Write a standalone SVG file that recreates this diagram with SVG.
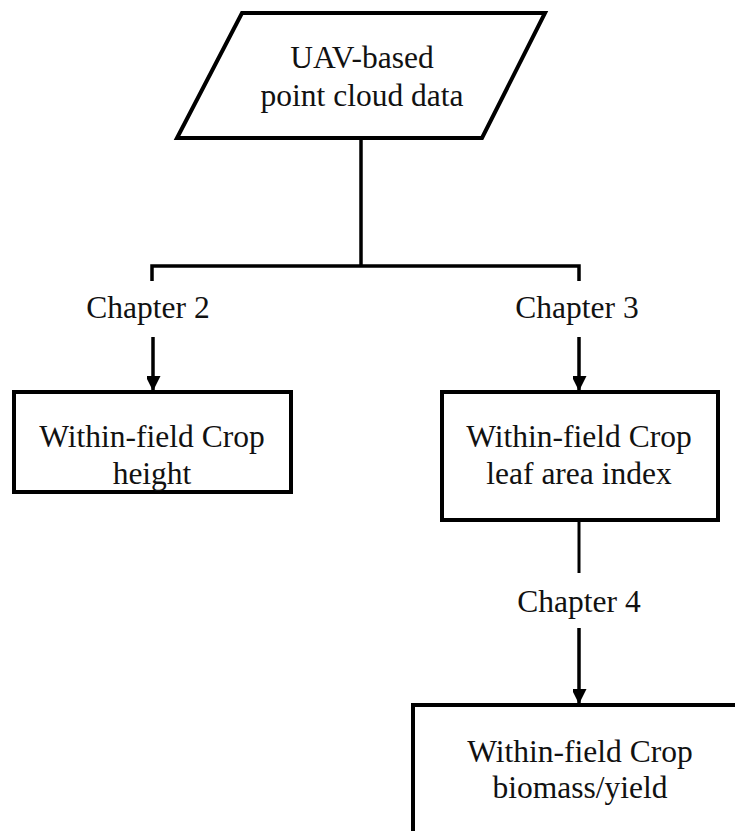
<svg xmlns="http://www.w3.org/2000/svg" width="735" height="831" viewBox="0 0 735 831">
<style>
.shape{fill:#fff;stroke:#000;stroke-width:4}
.conn{fill:none;stroke:#000;stroke-width:3.5}
.t{font-family:"Liberation Serif","Times New Roman",serif;font-size:31.5px;fill:#111;text-anchor:middle}
</style>
<defs>
<marker id="ah" markerUnits="userSpaceOnUse" markerWidth="16" markerHeight="14" refX="14" refY="7.5" orient="auto">
<path d="M0,0 L15,7.5 L0,15 Z" fill="#000"/>
</marker>
</defs>
<rect width="735" height="831" fill="#fff"/>
<g id="connectors">
<path class="conn" d="M361,138 V266"/>
<path class="conn" d="M152,281 V266 H579 V281"/>
<path class="conn" d="M153,337 V390" marker-end="url(#ah)"/>
<path class="conn" d="M579,337 V390" marker-end="url(#ah)"/>
<path class="conn" d="M579,521 V573" style="stroke-width:3"/>
<path class="conn" d="M579,628 V703" marker-end="url(#ah)"/>
<text class="t" x="148" y="318">Chapter 2</text>
<text class="t" x="577" y="318">Chapter 3</text>
<text class="t" x="579" y="612">Chapter 4</text>
</g>
<g id="input">
<polygon class="shape" points="242,13 545,13 482,138 177,138"/>
<text class="t" x="362" y="68">UAV-based</text>
<text class="t" x="362" y="106">point cloud data</text>
</g>
<g id="height">
<rect class="shape" x="14" y="392" width="277" height="100"/>
<text class="t" x="152" y="447">Within-field Crop</text>
<text class="t" x="152" y="484">height</text>
</g>
<g id="lai">
<rect class="shape" x="442" y="392" width="276" height="128"/>
<text class="t" x="579" y="447">Within-field Crop</text>
<text class="t" x="579" y="484">leaf area index</text>
</g>
<g id="biomass">
<rect class="shape" x="413" y="705" width="340" height="140"/>
<text class="t" x="580" y="762">Within-field Crop</text>
<text class="t" x="580" y="798">biomass/yield</text>
</g>
</svg>
